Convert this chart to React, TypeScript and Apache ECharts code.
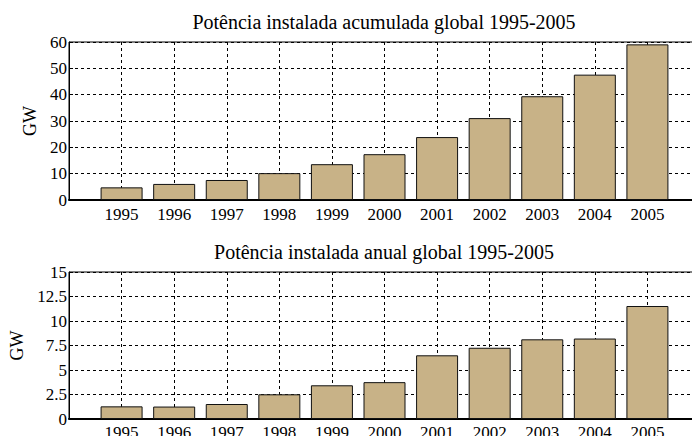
import React, { useEffect, useRef } from "react";
import * as echarts from "echarts";

const years = [1995, 1996, 1997, 1998, 1999, 2000, 2001, 2002, 2003, 2004, 2005];
const cumulative = [4.8, 6.1, 7.6, 10.2, 13.6, 17.4, 23.9, 31.1, 39.4, 47.6, 59.1];
const annual = [1.29, 1.27, 1.53, 2.52, 3.44, 3.76, 6.5, 7.27, 8.13, 8.21, 11.53];
const titleTop = "Potência instalada acumulada global 1995-2005";
const titleBottom = "Potência instalada anual global 1995-2005";
const yUnit = "GW";

const FONT = "'Liberation Serif', 'Times New Roman', Times, serif";
const BAR = "#C8B287";

export default function App() {
  const ref = useRef<HTMLDivElement>(null);
  useEffect(() => {
    const chart = echarts.init(ref.current!, null, { renderer: "svg" });
    const xAxisBase = (gridIndex: number, margin: number) => ({
      type: "value",
      gridIndex,
      min: 1994,
      max: 2006,
      interval: 1,
      axisLine: { show: true, onZero: false, lineStyle: { color: "#000", width: 2 } },
      axisTick: { show: false },
      axisLabel: {
        color: "#000",
        fontFamily: FONT,
        fontSize: 17,
        margin,
        formatter: (v: number) => (v >= 1995 && v <= 2005 ? String(v) : ""),
      },
      splitLine: { show: true, lineStyle: { color: "#000", type: [3, 3], width: 1 } },
    });
    const yAxisBase = (gridIndex: number, max: number, interval: number) => ({
      type: "value",
      gridIndex,
      min: 0,
      max,
      interval,
      name: yUnit,
      nameLocation: "middle",
      nameRotate: 90,
      nameGap: 28,
      nameTextStyle: { color: "#000", fontFamily: FONT, fontSize: 18 },
      axisLine: { show: true, lineStyle: { color: "#000", width: 1 } },
      axisTick: { show: true, inside: true, length: 4, lineStyle: { color: "#000" } },
      axisLabel: { color: "#000", fontFamily: FONT, fontSize: 17, margin: 2 },
      splitLine: { show: true, lineStyle: { color: "#000", type: [3, 3], width: 1 } },
    });
    chart.setOption({
      animation: false,
      backgroundColor: "#fff",
      textStyle: { fontFamily: FONT },
      grid: [
        { left: 69, top: 42, width: 631, height: 158, containLabel: false, outerBoundsMode: "none", show: true, borderColor: "#000", borderWidth: 1, backgroundColor: "transparent" },
        { left: 69, top: 272, width: 631, height: 147, containLabel: false, outerBoundsMode: "none", show: true, borderColor: "#000", borderWidth: 1, backgroundColor: "transparent" },
      ],
      xAxis: [xAxisBase(0, 6), xAxisBase(1, 5)],
      yAxis: [yAxisBase(0, 60, 10), yAxisBase(1, 15, 2.5)],
      graphic: [
        { type: "text", x: 384, y: 22, style: { text: titleTop, fontFamily: FONT, fontSize: 20, fill: "#000", textAlign: "center", textVerticalAlign: "middle" } },
        { type: "text", x: 384, y: 252, style: { text: titleBottom, fontFamily: FONT, fontSize: 20, fill: "#000", textAlign: "center", textVerticalAlign: "middle" } },
      ],
      series: [
        {
          type: "bar",
          xAxisIndex: 0,
          yAxisIndex: 0,
          barWidth: 42,
          data: years.map((y, i) => [y, cumulative[i]]),
          itemStyle: { color: BAR, borderColor: "#111", borderWidth: 1 },
        },
        {
          type: "bar",
          xAxisIndex: 1,
          yAxisIndex: 1,
          barWidth: 42,
          data: years.map((y, i) => [y, annual[i]]),
          itemStyle: { color: BAR, borderColor: "#111", borderWidth: 1 },
        },
      ],
    });
    return () => chart.dispose();
  }, []);
  return <div ref={ref} style={{ width: 692, height: 436, position: "absolute", left: 0, top: 0, overflow: "hidden" }} />;
}
